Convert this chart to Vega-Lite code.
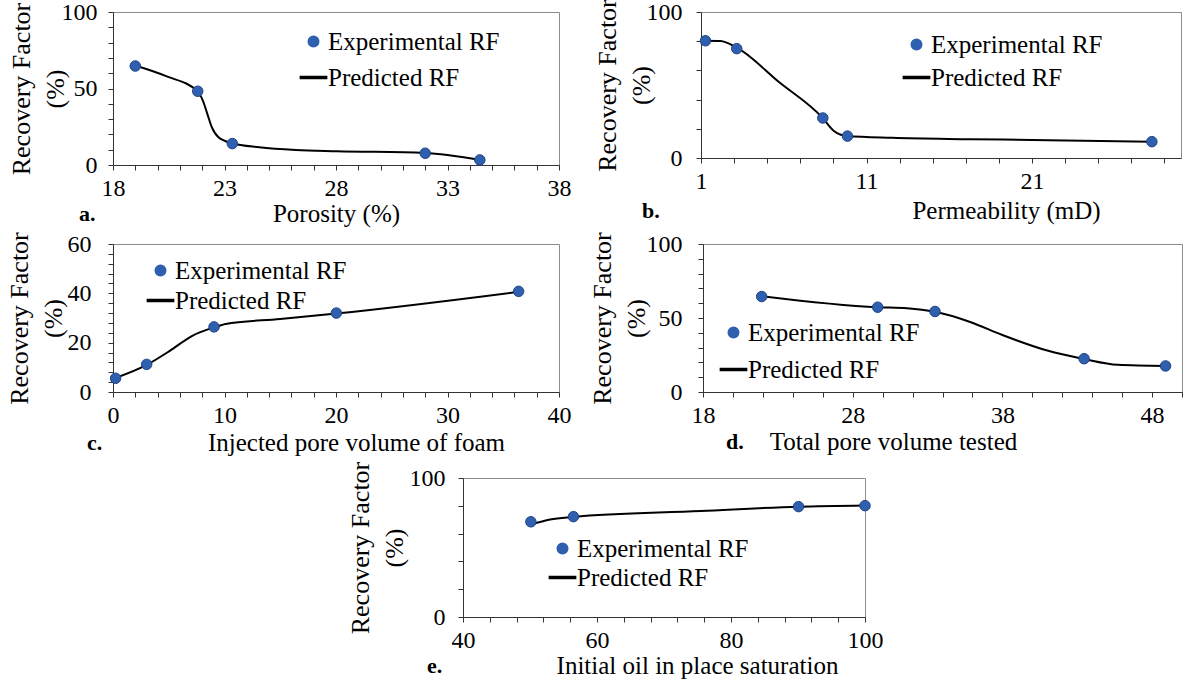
{
  "$schema": "https://vega.github.io/schema/vega-lite/v6.json",
  "autosize": {"type": "none"},
  "padding": {"left": 113, "top": 12, "right": 1079, "bottom": 679},
  "background": "white",
  "spacing": 4,
  "resolve": {"scale": {"color": "independent", "shape": "independent"}, "legend": {"color": "independent", "shape": "independent"}},
  "config": {
    "font": "Liberation Serif",
    "view": {"stroke": "#8c8c8c", "strokeWidth": 1},
    "axis": {
      "labelFont": "Liberation Serif", "labelFontSize": 24, "labelColor": "black",
      "titleFont": "Liberation Serif", "titleFontSize": 25, "titleFontWeight": "normal", "titleColor": "black",
      "domainColor": "#333333", "tickColor": "#333333", "tickSize": 5, "grid": false,
      "labelOverlap": false, "labelFlush": false, "labelBound": false
    },
    "axisX": {"labelPadding": 6, "titleBaseline": "middle"},
    "axisY": {"titleFontSize": 26, "titleLineHeight": 34},
    "legend": {
      "labelFont": "Liberation Serif", "labelFontSize": 25, "labelColor": "black", "labelLimit": 400,
      "orient": "none", "padding": 0, "labelOffset": 2, "symbolSize": 110, "title": null
    },
    "title": {"font": "Liberation Serif", "fontSize": 22, "fontWeight": "bold", "color": "black"}
  },
  "datasets": {
    "a": [
      {"x": 19.0, "rf": 64.7, "series": "Experimental RF"},
      {"x": 21.8, "rf": 48.2, "series": "Experimental RF"},
      {"x": 23.35, "rf": 14.0, "series": "Experimental RF"},
      {"x": 32.0, "rf": 7.7, "series": "Experimental RF"},
      {"x": 34.45, "rf": 3.3, "series": "Experimental RF"},
      {"x": 19.0, "rf": 65.0, "series": "Predicted RF"},
      {"x": 20.41, "rf": 57.9, "series": "Predicted RF"},
      {"x": 21.78, "rf": 48.3, "series": "Predicted RF"},
      {"x": 22.03, "rf": 42.1, "series": "Predicted RF"},
      {"x": 22.23, "rf": 33.4, "series": "Predicted RF"},
      {"x": 22.43, "rf": 24.7, "series": "Predicted RF"},
      {"x": 22.73, "rf": 18.1, "series": "Predicted RF"},
      {"x": 23.34, "rf": 14.2, "series": "Predicted RF"},
      {"x": 24.56, "rf": 11.6, "series": "Predicted RF"},
      {"x": 26.2, "rf": 9.8, "series": "Predicted RF"},
      {"x": 28.04, "rf": 9.0, "series": "Predicted RF"},
      {"x": 31.99, "rf": 7.9, "series": "Predicted RF"},
      {"x": 34.4, "rf": 3.5, "series": "Predicted RF"}
    ],
    "b": [
      {"x": 1.27, "rf": 80.3, "series": "Experimental RF"},
      {"x": 3.16, "rf": 74.9, "series": "Experimental RF"},
      {"x": 8.36, "rf": 27.4, "series": "Experimental RF"},
      {"x": 9.85, "rf": 15.0, "series": "Experimental RF"},
      {"x": 28.24, "rf": 11.2, "series": "Experimental RF"},
      {"x": 1.27, "rf": 80.3, "series": "Predicted RF"},
      {"x": 2.17, "rf": 80.1, "series": "Predicted RF"},
      {"x": 3.16, "rf": 75.6, "series": "Predicted RF"},
      {"x": 5.71, "rf": 52.0, "series": "Predicted RF"},
      {"x": 8.35, "rf": 27.4, "series": "Predicted RF"},
      {"x": 9.01, "rf": 18.7, "series": "Predicted RF"},
      {"x": 9.84, "rf": 15.0, "series": "Predicted RF"},
      {"x": 12.55, "rf": 13.8, "series": "Predicted RF"},
      {"x": 17.27, "rf": 12.9, "series": "Predicted RF"},
      {"x": 21.99, "rf": 12.2, "series": "Predicted RF"},
      {"x": 28.24, "rf": 11.2, "series": "Predicted RF"}
    ],
    "c": [
      {"x": 0.23, "rf": 5.55, "series": "Experimental RF"},
      {"x": 3.02, "rf": 11.2, "series": "Experimental RF"},
      {"x": 9.06, "rf": 26.4, "series": "Experimental RF"},
      {"x": 20.03, "rf": 32.0, "series": "Experimental RF"},
      {"x": 36.38, "rf": 40.8, "series": "Experimental RF"},
      {"x": 0.23, "rf": 5.7, "series": "Predicted RF"},
      {"x": 3.02, "rf": 11.0, "series": "Predicted RF"},
      {"x": 5.1, "rf": 16.7, "series": "Predicted RF"},
      {"x": 7.11, "rf": 22.8, "series": "Predicted RF"},
      {"x": 9.06, "rf": 26.2, "series": "Predicted RF"},
      {"x": 10.1, "rf": 27.6, "series": "Predicted RF"},
      {"x": 15.0, "rf": 29.6, "series": "Predicted RF"},
      {"x": 20.03, "rf": 31.8, "series": "Predicted RF"},
      {"x": 36.38, "rf": 40.6, "series": "Predicted RF"}
    ],
    "d": [
      {"x": 21.92, "rf": 64.5, "series": "Experimental RF"},
      {"x": 29.67, "rf": 57.3, "series": "Experimental RF"},
      {"x": 33.5, "rf": 54.4, "series": "Experimental RF"},
      {"x": 43.46, "rf": 22.5, "series": "Experimental RF"},
      {"x": 48.9, "rf": 17.6, "series": "Experimental RF"},
      {"x": 21.92, "rf": 64.8, "series": "Predicted RF"},
      {"x": 29.67, "rf": 57.3, "series": "Predicted RF"},
      {"x": 31.63, "rf": 56.6, "series": "Predicted RF"},
      {"x": 33.5, "rf": 54.2, "series": "Predicted RF"},
      {"x": 35.8, "rf": 47.5, "series": "Predicted RF"},
      {"x": 38.0, "rf": 38.5, "series": "Predicted RF"},
      {"x": 41.0, "rf": 28.0, "series": "Predicted RF"},
      {"x": 43.46, "rf": 22.3, "series": "Predicted RF"},
      {"x": 45.7, "rf": 18.4, "series": "Predicted RF"},
      {"x": 48.9, "rf": 17.6, "series": "Predicted RF"}
    ],
    "e": [
      {"x": 50.13, "rf": 68.5, "series": "Experimental RF"},
      {"x": 56.48, "rf": 72.2, "series": "Experimental RF"},
      {"x": 90.08, "rf": 79.4, "series": "Experimental RF"},
      {"x": 100, "rf": 80.1, "series": "Experimental RF"},
      {"x": 50.13, "rf": 66.5, "series": "Predicted RF"},
      {"x": 53.0, "rf": 70.2, "series": "Predicted RF"},
      {"x": 56.48, "rf": 72.0, "series": "Predicted RF"},
      {"x": 75.5, "rf": 76.2, "series": "Predicted RF"},
      {"x": 90.08, "rf": 79.4, "series": "Predicted RF"},
      {"x": 100, "rf": 80.3, "series": "Predicted RF"}
    ],
    "spacer": [{"x": 0}]
  },
  "vconcat": [
    {
      "bounds": "flush",
      "spacing": 142,
      "resolve": {"scale": {"color": "independent", "shape": "independent"}, "legend": {"color": "independent", "shape": "independent"}},
      "hconcat": [
        {
          "width": 446, "height": 153,
          "data": {"name": "a"},
          "title": {"text": "a.", "orient": "bottom", "anchor": "start", "frame": "group", "dx": -34, "dy": -26},
          "encoding": {
            "x": {"field": "x", "type": "quantitative", "scale": {"domain": [18, 38], "nice": false, "zero": false},
              "axis": {"title": "Porosity (%)", "values": [18,19,20,21,22,23,24,25,26,27,28,29,30,31,32,33,34,35,36,37,38],
                "labelExpr": "(datum.value - 18) % 5 === 0 ? datum.label : ''", "titleX": 223, "titleY": 48}},
            "y": {"field": "rf", "type": "quantitative", "scale": {"domain": [0, 100], "nice": false},
              "axis": {"title": ["Recovery Factor", "(%)"], "values": [0,10,20,30,40,50,60,70,80,90,100],
                "labelExpr": "datum.value % 50 === 0 ? datum.label : ''", "labelPadding": 11, "titlePadding": -7}},
            "color": {"field": "series", "type": "nominal",
              "scale": {"domain": ["Experimental RF", "Predicted RF"], "range": ["#2f60b0", "black"]},
              "legend": {"legendX": 188, "legendY": 17, "rowPadding": 10}}
          },
          "layer": [
            {"transform": [{"filter": "datum.series === 'Predicted RF'"}], "mark": {"type": "line", "interpolate": "monotone", "strokeWidth": 2}},
            {"transform": [{"filter": "datum.series === 'Experimental RF'"}], "mark": {"type": "point", "filled": true, "size": 110, "opacity": 1, "stroke": "#1d4286", "strokeWidth": 1},
              "encoding": {"shape": {"field": "series", "type": "nominal", "scale": {"domain": ["Experimental RF", "Predicted RF"], "range": ["circle", "M-2.5,-0.2H2.5V0.2H-2.5Z"]},
                "legend": {"legendX": 188, "legendY": 17, "rowPadding": 10}}}}
          ]
        },
        {
          "width": 480, "height": 146,
          "data": {"name": "b"},
          "title": {"text": "b.", "orient": "bottom", "anchor": "start", "frame": "group", "dx": -59, "dy": -26},
          "encoding": {
            "x": {"field": "x", "type": "quantitative", "scale": {"domain": [1, 30], "nice": false, "zero": false},
              "axis": {"title": "Permeability (mD)", "values": [1,3,5,7,9,11,13,15,17,19,21,23,25,27,29],
                "labelExpr": "(datum.value - 1) % 10 === 0 ? datum.label : ''", "titleX": 305, "titleY": 52}},
            "y": {"field": "rf", "type": "quantitative", "scale": {"domain": [0, 100], "nice": false},
              "axis": {"title": ["Recovery Factor", "(%)"], "values": [0,20,40,60,80,100],
                "labelExpr": "datum.value % 100 === 0 ? datum.label : ''", "labelPadding": 14, "titlePadding": -8}},
            "color": {"field": "series", "type": "nominal",
              "scale": {"domain": ["Experimental RF", "Predicted RF"], "range": ["#2f60b0", "black"]},
              "legend": {"legendX": 203, "legendY": 20, "rowPadding": 7}}
          },
          "layer": [
            {"transform": [{"filter": "datum.series === 'Predicted RF'"}], "mark": {"type": "line", "interpolate": "monotone", "strokeWidth": 2}},
            {"transform": [{"filter": "datum.series === 'Experimental RF'"}], "mark": {"type": "point", "filled": true, "size": 110, "opacity": 1, "stroke": "#1d4286", "strokeWidth": 1},
              "encoding": {"shape": {"field": "series", "type": "nominal", "scale": {"domain": ["Experimental RF", "Predicted RF"], "range": ["circle", "M-2.5,-0.2H2.5V0.2H-2.5Z"]},
                "legend": {"legendX": 203, "legendY": 20, "rowPadding": 7}}}}
          ]
        }
      ]
    },
    {
      "bounds": "flush",
      "spacing": 144,
      "resolve": {"scale": {"color": "independent", "shape": "independent"}, "legend": {"color": "independent", "shape": "independent"}},
      "hconcat": [
        {
          "width": 446, "height": 148,
          "data": {"name": "c"},
          "title": {"text": "c.", "orient": "bottom", "anchor": "start", "frame": "group", "dx": -26, "dy": -26},
          "encoding": {
            "x": {"field": "x", "type": "quantitative", "scale": {"domain": [0, 40], "nice": false, "zero": false},
              "axis": {"title": "Injected pore volume of foam", "values": [0,2,4,6,8,10,12,14,16,18,20,22,24,26,28,30,32,34,36,38,40],
                "labelExpr": "datum.value % 10 === 0 ? datum.label : ''", "titleX": 243, "titleY": 50}},
            "y": {"field": "rf", "type": "quantitative", "scale": {"domain": [0, 60], "nice": false},
              "axis": {"title": ["Recovery Factor", "(%)"], "values": [0,4,8,12,16,20,24,28,32,36,40,44,48,52,56,60],
                "labelExpr": "datum.value % 20 === 0 ? datum.label : ''", "labelPadding": 17, "titlePadding": 1}},
            "color": {"field": "series", "type": "nominal",
              "scale": {"domain": ["Experimental RF", "Predicted RF"], "range": ["#2f60b0", "black"]},
              "legend": {"legendX": 35, "legendY": 14, "rowPadding": 4}}
          },
          "layer": [
            {"transform": [{"filter": "datum.series === 'Predicted RF'"}], "mark": {"type": "line", "interpolate": "monotone", "strokeWidth": 2}},
            {"transform": [{"filter": "datum.series === 'Experimental RF'"}], "mark": {"type": "point", "filled": true, "size": 110, "opacity": 1, "stroke": "#1d4286", "strokeWidth": 1},
              "encoding": {"shape": {"field": "series", "type": "nominal", "scale": {"domain": ["Experimental RF", "Predicted RF"], "range": ["circle", "M-2.5,-0.2H2.5V0.2H-2.5Z"]},
                "legend": {"legendX": 35, "legendY": 14, "rowPadding": 4}}}}
          ]
        },
        {
          "width": 479, "height": 148,
          "data": {"name": "d"},
          "title": {"text": "d.", "orient": "bottom", "anchor": "start", "frame": "group", "dx": 23, "dy": -26},
          "encoding": {
            "x": {"field": "x", "type": "quantitative", "scale": {"domain": [18, 50], "nice": false, "zero": false},
              "axis": {"title": "Total pore volume tested", "values": [18,20,22,24,26,28,30,32,34,36,38,40,42,44,46,48,50],
                "labelExpr": "(datum.value - 18) % 10 === 0 ? datum.label : ''", "titleX": 190, "titleY": 49}},
            "y": {"field": "rf", "type": "quantitative", "scale": {"domain": [0, 100], "nice": false},
              "axis": {"title": ["Recovery Factor", "(%)"], "values": [0,10,20,30,40,50,60,70,80,90,100],
                "labelExpr": "datum.value % 50 === 0 ? datum.label : ''", "labelPadding": 16, "titlePadding": -3}},
            "color": {"field": "series", "type": "nominal",
              "scale": {"domain": ["Experimental RF", "Predicted RF"], "range": ["#2f60b0", "black"]},
              "legend": {"legendX": 18, "legendY": 76, "rowPadding": 11}}
          },
          "layer": [
            {"transform": [{"filter": "datum.series === 'Predicted RF'"}], "mark": {"type": "line", "interpolate": "monotone", "strokeWidth": 2}},
            {"transform": [{"filter": "datum.series === 'Experimental RF'"}], "mark": {"type": "point", "filled": true, "size": 110, "opacity": 1, "stroke": "#1d4286", "strokeWidth": 1},
              "encoding": {"shape": {"field": "series", "type": "nominal", "scale": {"domain": ["Experimental RF", "Predicted RF"], "range": ["circle", "M-2.5,-0.2H2.5V0.2H-2.5Z"]},
                "legend": {"legendX": 18, "legendY": 76, "rowPadding": 11}}}}
          ]
        }
      ]
    },
    {
      "bounds": "flush",
      "spacing": 0,
      "resolve": {"scale": {"color": "independent", "shape": "independent"}, "legend": {"color": "independent", "shape": "independent"}},
      "hconcat": [
        {
          "width": 350, "height": 139,
          "data": {"name": "spacer"},
          "mark": {"type": "text", "text": " "},
          "encoding": {},
          "view": {"strokeWidth": 0}
        },
        {
          "width": 402, "height": 139,
          "data": {"name": "e"},
          "title": {"text": "e.", "orient": "bottom", "anchor": "start", "frame": "group", "dx": -36, "dy": -26},
          "encoding": {
            "x": {"field": "x", "type": "quantitative", "scale": {"domain": [40, 100], "nice": false, "zero": false},
              "axis": {"title": "Initial oil in place saturation", "values": [40,44,48,52,56,60,64,68,72,76,80,84,88,92,96,100],
                "labelExpr": "(datum.value - 40) % 20 === 0 ? datum.label : ''", "titleX": 234, "titleY": 48}},
            "y": {"field": "rf", "type": "quantitative", "scale": {"domain": [0, 100], "nice": false},
              "axis": {"title": ["Recovery Factor", "(%)"], "values": [0,20,40,60,80,100],
                "labelExpr": "datum.value % 100 === 0 ? datum.label : ''", "labelPadding": 13, "titlePadding": 2}},
            "color": {"field": "series", "type": "nominal",
              "scale": {"domain": ["Experimental RF", "Predicted RF"], "range": ["#2f60b0", "black"]},
              "legend": {"legendX": 87, "legendY": 58, "rowPadding": 3}}
          },
          "layer": [
            {"transform": [{"filter": "datum.series === 'Predicted RF'"}], "mark": {"type": "line", "interpolate": "monotone", "strokeWidth": 2}},
            {"transform": [{"filter": "datum.series === 'Experimental RF'"}], "mark": {"type": "point", "filled": true, "size": 110, "opacity": 1, "stroke": "#1d4286", "strokeWidth": 1},
              "encoding": {"shape": {"field": "series", "type": "nominal", "scale": {"domain": ["Experimental RF", "Predicted RF"], "range": ["circle", "M-2.5,-0.2H2.5V0.2H-2.5Z"]},
                "legend": {"legendX": 87, "legendY": 58, "rowPadding": 3}}}}
          ]
        }
      ]
    }
  ]
}
